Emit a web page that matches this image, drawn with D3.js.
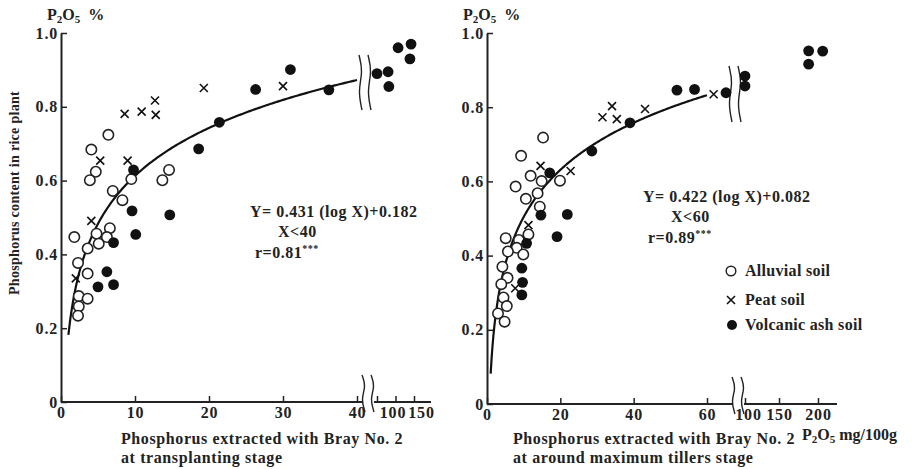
<!DOCTYPE html>
<html>
<head>
<meta charset="utf-8">
<script src="https://cdn.jsdelivr.net/npm/d3@7"></script>
<style>
  body { margin: 0; background: #fff; }
  text { font-family: "Liberation Serif", "DejaVu Serif", serif; font-weight: bold; fill: #222; }
  .tick text { font-size: 16px; letter-spacing: 0.8px; }
  .tick line { stroke: #222; stroke-width: 1.5; }
</style>
</head>
<body>
<div id="chart"></div>
<script>
// Data (X = P2O5 mg/100g, Y = P2O5 %)
var alluvialLeft = [[4.1,0.684],[6.4,0.724],[4.7,0.624],[3.9,0.601],[7.0,0.572],[8.3,0.547],[9.5,0.604],[14.6,0.629],[13.7,0.601],
    [6.6,0.471],[4.8,0.456],[1.8,0.447],[6.2,0.447],[5.1,0.429],[3.6,0.416],[2.3,0.377],[3.6,0.348],[2.4,0.287],[3.6,0.280],[2.4,0.259],[2.3,0.234]];
var peatLeft = [[8.6,0.781],[10.9,0.787],[12.7,0.817],[12.8,0.778],[19.3,0.851],[30.0,0.856],[5.3,0.654],[9.0,0.654],[4.1,0.491],[2.0,0.335]];
var volcanicLeft = [[9.8,0.629],[9.6,0.518],[14.7,0.507],[18.6,0.686],[21.4,0.758],[26.3,0.847],[31.0,0.901],[36.2,0.846],[10.1,0.454],
    [7.1,0.432],[6.2,0.353],[5.0,0.312],[7.1,0.318],[50,0.89],[80,0.895],[82,0.855],[107,0.96],[142,0.97],[139,0.93]];

var alluvialRight = [[15.3,0.718],[9.3,0.669],[11.9,0.615],[14.9,0.601],[7.8,0.586],[13.8,0.568],[10.6,0.553],[19.9,0.602],[14.4,0.532],
    [5.1,0.447],[8.7,0.442],[11.3,0.457],[8.1,0.421],[5.7,0.411],[9.9,0.403],[4.2,0.370],[5.6,0.340],[3.9,0.323],[4.5,0.287],[5.4,0.264],[3.0,0.244],[4.8,0.222]];
var peatRight = [[14.6,0.642],[22.8,0.628],[31.5,0.773],[34.1,0.803],[35.4,0.768],[43.1,0.795],[67,0.835],[11.3,0.482],[7.7,0.312]];
var volcanicRight = [[17.1,0.623],[28.6,0.682],[39.0,0.758],[51.8,0.846],[56.6,0.848],[80,0.839],[14.7,0.509],[21.9,0.511],[19.1,0.451],
    [10.8,0.433],[9.5,0.366],[9.7,0.328],[9.5,0.294],[100,0.884],[100,0.857],[188,0.952],[206,0.951],[188,0.916]];

// Regression lines: Y = a (log X) + b
var fitLeft = { a: 0.431, b: 0.182, xMax: 40 };
var fitRight = { a: 0.422, b: 0.082, xMax: 60 };

var yTicks = [0, 0.2, 0.4, 0.6, 0.8, 1.0];
var xTicksLeft = [0, 10, 20, 30, 40, 50, 100, 150];
var xTicksRight = [0, 20, 40, 60, 100, 150, 200];
var legendNames = ["Alluvial soil", "Peat soil", "Volcanic ash soil"];

var svgWidth = 921;
var svgHeight = 469;

var svg = d3.select("#chart")
    .append("svg")
    .attr("width", svgWidth)
    .attr("height", svgHeight);

// Broken x scales (polylinear)
var xLeft = d3.scaleLinear().domain([0, 40, 50, 150]).range([61, 357, 377, 414]);
var yLeft = d3.scaleLinear().domain([0, 1]).range([402, 33]);
var xRight = d3.scaleLinear().domain([0, 60, 100, 150, 200]).range([487, 707, 745, 779, 818]);
var yRight = d3.scaleLinear().domain([0, 1]).range([404, 33]);

var waveLine = d3.line().curve(d3.curveBasis);

function drawWave(g, x, y0, h) {
    var pts = [[x, y0], [x + 4, y0 + h * 0.3], [x - 1, y0 + h * 0.65], [x + 3, y0 + h]];
    g.append("path")
        .attr("d", waveLine(pts))
        .attr("fill", "none")
        .attr("stroke", "#222")
        .attr("stroke-width", 1.4);
}

function subLabel(sel, tail) {
    sel.append("tspan").text("P");
    sel.append("tspan").attr("dy", 3).style("font-size", "11px").text("2");
    sel.append("tspan").attr("dy", -3).text("O");
    sel.append("tspan").attr("dy", 3).style("font-size", "11px").text("5");
    sel.append("tspan").attr("dy", -3).attr("dx", tail.dx).text(tail.text);
}

function drawPanel(p) {
    var g = svg.append("g");
    var x = p.x, y = p.y;
    var y0 = y(0);

    // y axis
    g.append("g")
        .attr("transform", `translate(${x(0)},0)`)
        .call(d3.axisLeft(y).tickValues(yTicks).tickSize(-6).tickSizeOuter(0).tickPadding(3)
            .tickFormat(d => d === 0 ? "0" : d.toFixed(1)))
        .call(a => a.select(".domain").attr("stroke", "#222").attr("stroke-width", 2));

    // x axis ticks + labels, domain drawn by hand with a gap
    g.append("g")
        .attr("transform", `translate(0,${y0})`)
        .call(d3.axisBottom(x).tickValues(p.xTicks).tickSize(-6).tickPadding(5)
            .tickFormat(d => p.hidden.indexOf(d) >= 0 ? "" : d))
        .call(a => a.select(".domain").remove())
        .call(a => a.selectAll(".tick text").attr("dx", d => p.shift[d] || 0));

    g.append("line").attr("x1", x(0)).attr("x2", p.gapA).attr("y1", y0).attr("y2", y0)
        .attr("stroke", "#222").attr("stroke-width", 2);
    g.append("line").attr("x1", p.gapB).attr("x2", p.xEnd).attr("y1", y0).attr("y2", y0)
        .attr("stroke", "#222").attr("stroke-width", 2);

    // break marks on the axis and near the curve
    drawWave(g, p.gapA - 1, y0 - 27, 37);
    drawWave(g, p.gapB - 3, y0 - 27, 37);
    drawWave(g, p.gapA - 4, p.waveTop, p.waveH);
    drawWave(g, p.gapB - 6, p.waveTop, p.waveH);

    // regression curve
    var fitPts = d3.range(1, p.fit.xMax + 0.01, 0.25).map(v => [v, p.fit.a * Math.log10(v) + p.fit.b]);
    g.append("path")
        .attr("d", d3.line().x(d => x(d[0])).y(d => y(d[1]))(fitPts))
        .attr("fill", "none")
        .attr("stroke", "#111")
        .attr("stroke-width", 2.2);

    // points
    g.selectAll(".alluvial").data(p.alluvial).enter().append("circle")
        .attr("cx", d => x(d[0])).attr("cy", d => y(d[1])).attr("r", 5.2)
        .attr("fill", "#fff").attr("stroke", "#222").attr("stroke-width", 1.6);
    g.selectAll(".volcanic").data(p.volcanic).enter().append("circle")
        .attr("cx", d => x(d[0])).attr("cy", d => y(d[1])).attr("r", 5.4)
        .attr("fill", "#111");
    g.selectAll(".peat").data(p.peat).enter().append("path")
        .attr("transform", d => `translate(${x(d[0])},${y(d[1])})`)
        .attr("d", "M-4,-4L4,4M-4,4L4,-4")
        .attr("stroke", "#111").attr("stroke-width", 1.6);

    // P2O5 % label
    var t = g.append("text").attr("x", p.unitX).attr("y", 20).style("font-size", "16px");
    subLabel(t, { dx: 8, text: "%" });

    // equation
    var eq = g.append("g").style("font-size", "16px").style("letter-spacing", "0.5px");
    eq.append("text").attr("x", p.eqX).attr("y", p.eqY).text(p.eqText);
    eq.append("text").attr("x", p.eqX + 28).attr("y", p.eqY + 20).text(p.condText);
    var r = eq.append("text").attr("x", p.eqX + 5).attr("y", p.eqY + 41);
    r.append("tspan").text(p.rText);
    r.append("tspan").attr("dy", -6).style("font-size", "10px").text("***");

    // x axis title
    var tt = g.append("g").style("font-size", "16px").style("letter-spacing", "0.6px");
    tt.append("text").attr("x", p.titleX).attr("y", 444).text("Phosphorus extracted with Bray No. 2");
    tt.append("text").attr("x", p.titleX).attr("y", 463).text(p.stage);
    return g;
}

drawPanel({
    x: xLeft, y: yLeft, xTicks: xTicksLeft, hidden: [50], shift: { 100: -3, 150: 7 },
    gapA: 363, gapB: 374, xEnd: 431, waveTop: 55, waveH: 55,
    fit: fitLeft, alluvial: alluvialLeft, peat: peatLeft, volcanic: volcanicLeft,
    unitX: 47, eqX: 250, eqY: 217, eqText: "Y= 0.431 (log X)+0.182", condText: "X<40", rText: "r=0.81",
    titleX: 121, stage: "at transplanting stage"
});

drawPanel({
    x: xRight, y: yRight, xTicks: xTicksRight, hidden: [], shift: { 100: 3 },
    gapA: 733, gapB: 744, xEnd: 837, waveTop: 66, waveH: 56,
    fit: fitRight, alluvial: alluvialRight, peat: peatRight, volcanic: volcanicRight,
    unitX: 463, eqX: 643, eqY: 202, eqText: "Y= 0.422 (log X)+0.082", condText: "X<60", rText: "r=0.89",
    titleX: 513, stage: "at around maximum tillers stage"
});

// left y axis title
svg.append("text")
    .attr("transform", "translate(19,193) rotate(-90)")
    .attr("text-anchor", "middle")
    .style("font-size", "14px")
    .style("letter-spacing", "0.3px")
    .text("Phosphorus content in rice plant");

// right unit label
var u = svg.append("text").attr("x", 802).attr("y", 440).style("font-size", "16px");
subLabel(u, { dx: 0, text: " mg/100g" });

// legend
var legendY = [271, 300, 325];
var legend = svg.append("g");
legendNames.forEach(function (name, i) {
    var cy = legendY[i];
    if (i === 0) {
        legend.append("circle").attr("cx", 731).attr("cy", cy).attr("r", 4.8)
            .attr("fill", "#fff").attr("stroke", "#222").attr("stroke-width", 1.5);
    } else if (i === 1) {
        legend.append("path").attr("transform", `translate(731,${cy})`)
            .attr("d", "M-4,-4L4,4M-4,4L4,-4").attr("stroke", "#111").attr("stroke-width", 1.6);
    } else {
        legend.append("circle").attr("cx", 732).attr("cy", cy).attr("r", 5).attr("fill", "#111");
    }
    legend.append("text").attr("x", 745).attr("y", cy + 5).style("font-size", "16px")
        .style("letter-spacing", "0.3px").text(name);
});
</script>
</body>
</html>
